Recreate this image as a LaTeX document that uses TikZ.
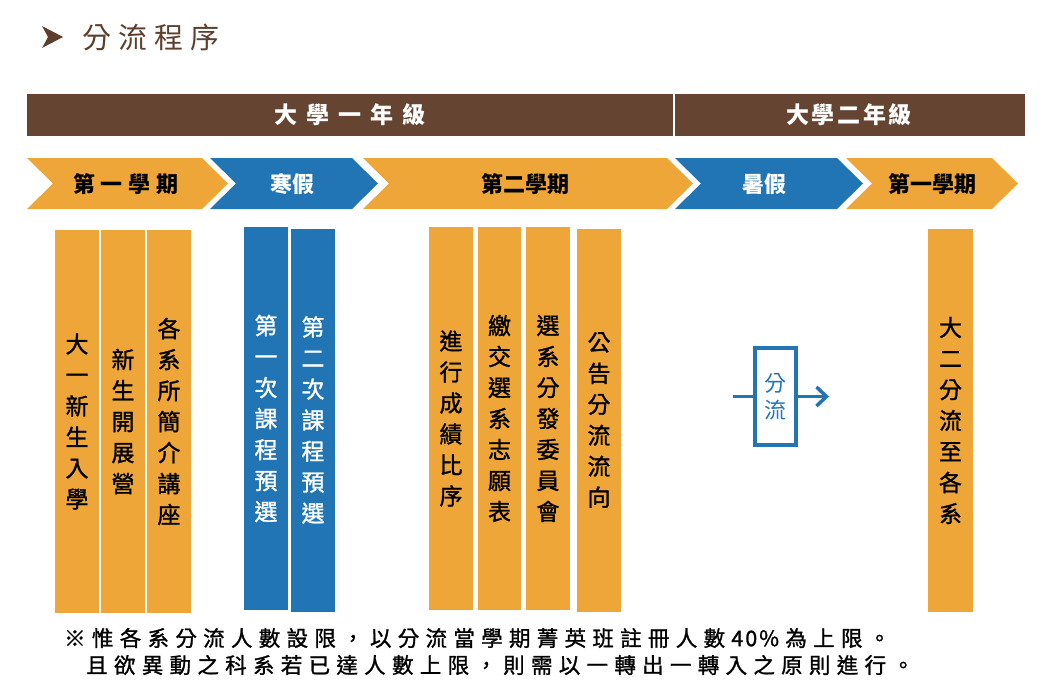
\documentclass[tikz,border=0pt]{standalone}
\usepackage{fontspec}
\setmainfont{Noto Sans CJK TC}
\newfontfamily\medfont{Noto Sans CJK TC}[FakeBold=1.2]
\usetikzlibrary{arrows.meta}
\definecolor{barbrown}{RGB}{101,68,50}
\definecolor{titlebrown}{RGB}{94,62,45}
\definecolor{orng}{RGB}{239,166,56}
\definecolor{blu}{RGB}{33,117,180}
\newcommand\lsp[2]{\def\lspamt{#1}\lsploop#2\relax}
\def\lsploop#1{\ifx\relax#1\unskip\else#1\hskip\lspamt\relax\expandafter\lsploop\fi}
\newcommand\chevshape[3]{\fill[#3] (#1,158) -- (#2,158) -- ({#2+26},183.5) -- (#2,209) -- (#1,209) -- ({#1+26},183.5) -- cycle;}
\tikzset{
  chevtext/.style={inner sep=0pt, font=\bfseries\fontsize{22}{24}\selectfont},
  yeartext/.style={inner sep=0pt, text=white, font=\bfseries\fontsize{23}{25}\selectfont},
  yearbar/.style={fill=barbrown, inner sep=0pt, minimum height=42pt},
  col/.style={minimum width=44pt, minimum height=383pt, inner sep=0pt, align=center, font=\medfont\fontsize{23}{31}\selectfont},
  ocol/.style={col, fill=orng, text=black},
  bcol/.style={col, fill=blu, text=white},
  notetext/.style={inner sep=0pt, anchor=west, font=\medfont\fontsize{21.5}{24}\selectfont},
  flowbox/.style={draw=blu, line width=4pt, minimum width=41pt, minimum height=97pt, inner sep=0pt, align=center, text=blu, font=\fontsize{22}{27}\selectfont},
  flowline/.style={draw=blu, line width=3.5pt},
}
\begin{document}
\begin{tikzpicture}[x=1pt,y=-1pt]
\useasboundingbox (0,0) rectangle (1040,693);
% title
\fill[titlebrown] (42,26) -- (63,37) -- (42,48) -- (48,37) -- cycle;
\node[inner sep=0pt, text=titlebrown, font=\fontsize{29}{32}\selectfont] (title) at (151,37) {\lsp{7pt}{分流程序}};
% year bars
\node[yearbar, minimum width=646pt] (year1) at (350,115) {};
\node[yearbar, minimum width=350pt] (year2) at (850,115) {};
\node[yeartext] (year1t) at (350,115) {\lsp{9pt}{大學一年級}};
\node[yeartext] (year2t) at (849,115) {\lsp{2.5pt}{大學二年級}};
% chevrons
\chevshape{27}{202}{orng}
\chevshape{210}{352}{blu}
\chevshape{363}{667}{orng}
\chevshape{675}{837}{blu}
\chevshape{846}{992}{orng}
\node[chevtext] (sem1) at (126,184) {\lsp{6pt}{第一學期}};
\node[chevtext, text=white] (winter) at (292,184) {寒假};
\node[chevtext] (sem2) at (525,184) {第二學期};
\node[chevtext, text=white] (summer) at (764,184) {暑假};
\node[chevtext] (sem3) at (932,184) {第一學期};
% columns
\node[ocol] (c1) at (77,421.5) {大\\一\\新\\生\\入\\學};
\node[ocol] (c2) at (123,421.5) {新\\生\\開\\展\\營};
\node[ocol] (c3) at (169,421.5) {各\\系\\所\\簡\\介\\講\\座};
\node[bcol] (c4) at (266,418.5) {第\\一\\次\\課\\程\\預\\選};
\node[bcol] (c5) at (313,420) {第\\二\\次\\課\\程\\預\\選};
\node[ocol] (c6) at (451,418.5) {進\\行\\成\\績\\比\\序};
\node[ocol, minimum width=43pt] (c7) at (499.5,418.5) {繳\\交\\選\\系\\志\\願\\表};
\node[ocol] (c8) at (548,418.5) {選\\系\\分\\發\\委\\員\\會};
\node[ocol] (c9) at (599,420) {公\\告\\分\\流\\流\\向};
\node[ocol, minimum width=45pt] (c10) at (950.5,420.5) {大\\二\\分\\流\\至\\各\\系};
% flow box
\node[flowbox] (split) at (775.5,396.5) {分\\流};
\coordinate (inpt) at (733,396.5);
\coordinate (outpt) at (829,396.5);
\draw[flowline] (inpt) -- (split.west);
\draw[flowline, -{Straight Barb[length=10pt,width=19pt]}] (split.east) -- (outpt);
% notes
\node[notetext] (note1) at (64,638) {\lsp{6.3pt}{※惟各系分流人數設限，以分流當學期菁英班註冊人數}\hskip6.3pt\lsp{2pt}{40\%}\hskip6.3pt\lsp{6.3pt}{為上限。}};
\node[notetext] (note2) at (86,665) {\lsp{6.3pt}{且欲異動之科系若已達人數上限，則需以一轉出一轉入之原則進行。}};
\end{tikzpicture}
\end{document}
